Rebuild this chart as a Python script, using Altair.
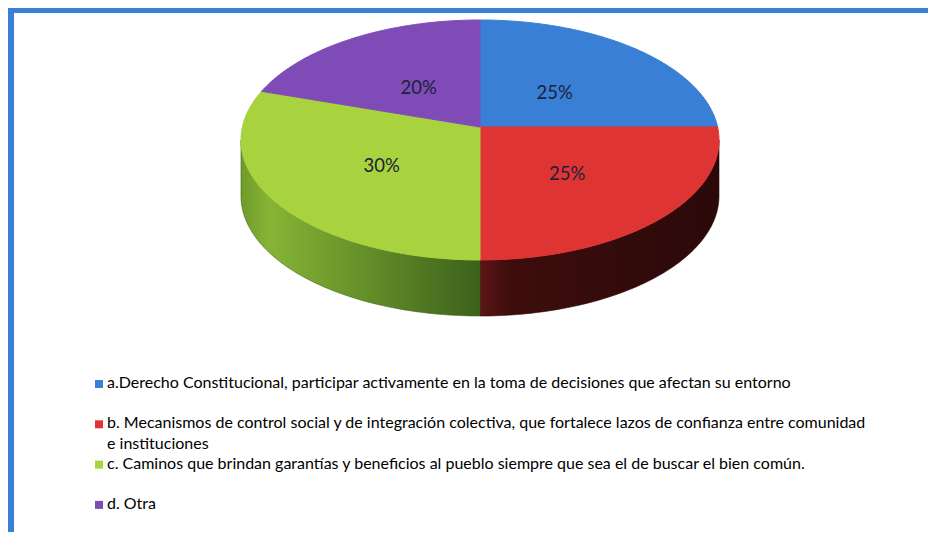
import altair as alt
import pandas as pd

# ---------------- data ----------------
categories = ["a", "b", "c", "d"]
values = [25, 25, 30, 20]
pct_labels = ["25%", "25%", "30%", "20%"]
legend_labels = [
    "a.Derecho Constitucional, participar activamente en la toma de decisiones que afectan su entorno",
    "b. Mecanismos de control social y de integración colectiva,  que fortalece lazos de confianza entre comunidad\ne instituciones",
    "c. Caminos que brindan  garantías y beneficios al pueblo siempre que sea el de buscar el bien común.",
    "d.  Otra",
]
top_colors = ["#3A7FD6", "#DF3434", "#A8D23E", "#7E4BB7"]
side_colors = [
    ["#2F63A8", "#24508A", "#1B3A66"],
    ["#5C1616", "#3E0D0D", "#2B0909"],
    ["#6F9B2B", "#86B535", "#3C611B"],
    ["#5A3585", "#4A2C6E", "#3B2258"],
]
side_offsets = [0.0, 0.12, 1.0]

df = pd.DataFrame({"cat": categories, "value": values, "pct": pct_labels, "legend": legend_labels})

# ---------------- geometry / layout constants ----------------
W, H = 920, 524
CX, VY, CYE, RX, RY, DEPTH = 472, 119, 132, 239, 120, 56
N = 72
Q = (VY - CYE) / RY
F = 0.48
LY0, LDY = 376, 40.3
FRAME = "#3A80D4"

xs = alt.Scale(domain=[0, W], nice=False, zero=False)
ys = alt.Scale(domain=[0, H], nice=False, zero=False, reverse=True)


def texpr(a):
    return f"({Q}*cos({a})+sqrt({Q*Q}*cos({a})*cos({a})+{1-Q*Q}))"


def geom():
    return (
        alt.Chart()
        .transform_window(cum="sum(value)", frame=[None, 0])
        .transform_joinaggregate(total="sum(value)")
        .transform_calculate(
            a0="2*PI*(datum.cum-datum.value)/datum.total",
            a1="2*PI*datum.cum/datum.total",
        )
        .transform_calculate(t0=texpr("datum.a0"), t1=texpr("datum.a1"))
        .transform_calculate(
            r0=f"atan2(datum.t0*sin(datum.a0), datum.t0*cos(datum.a0)-({Q}))",
            r1=f"atan2(datum.t1*sin(datum.a1), datum.t1*cos(datum.a1)-({Q}))",
        )
        .transform_calculate(
            p0="datum.r0<0 ? datum.r0+2*PI : datum.r0",
            p1="datum.r1<0 ? datum.r1+2*PI : datum.r1",
        )
    )


enc = dict(
    x=alt.X("x:Q", scale=xs, axis=None),
    y=alt.Y("y:Q", scale=ys, axis=None),
    order=alt.Order("k:Q"),
)

layers = []

# frame
frame_top = alt.Chart(alt.Data(values=[{}])).mark_rule(color=FRAME, strokeWidth=6).encode(
    x=alt.value(0), x2=alt.value(W), y=alt.value(2)
)
frame_left = alt.Chart(alt.Data(values=[{}])).mark_rule(color=FRAME, strokeWidth=6).encode(
    x=alt.value(3), y=alt.value(0), y2=alt.value(H)
)
layers += [frame_top, frame_left]

# sides (3D depth)
for i, c in enumerate(categories):
    grad = alt.Gradient(
        gradient="linear",
        stops=[alt.GradientStop(color=col, offset=o) for col, o in zip(side_colors[i], side_offsets)],
        x1=0, x2=1, y1=0, y2=0,
    )
    side = (
        geom()
        .transform_filter(alt.datum.cat == c)
        .transform_calculate(s0="max(datum.p0, PI/2)", s1="min(datum.p1, 3*PI/2)")
        .transform_filter("datum.s1 > datum.s0")
        .transform_calculate(k=f"sequence(0, {2*N+2})")
        .transform_flatten(["k"])
        .transform_calculate(
            ph=f"datum.k<={N} ? datum.s0+(datum.s1-datum.s0)*datum.k/{N} : datum.s1-(datum.s1-datum.s0)*(datum.k-{N+1})/{N}",
            x=f"{CX}+{RX}*sin(datum.ph)",
            y=f"{CYE}-{RY}*cos(datum.ph)+(datum.k>{N} ? {DEPTH} : 0)",
        )
        .mark_line(fill=grad, stroke=side_colors[i][2], strokeWidth=0.6, interpolate="linear-closed")
        .encode(**enc)
    )
    layers.append(side)

# top faces
for i, c in enumerate(categories):
    top = (
        geom()
        .transform_filter(alt.datum.cat == c)
        .transform_calculate(k=f"sequence(-1, {N+1})")
        .transform_flatten(["k"])
        .transform_calculate(
            ph=f"datum.p0+(datum.p1-datum.p0)*max(datum.k,0)/{N}",
            x=f"datum.k<0 ? {CX} : {CX}+{RX}*sin(datum.ph)",
            y=f"datum.k<0 ? {VY} : {CYE}-{RY}*cos(datum.ph)",
        )
        .mark_line(fill=top_colors[i], stroke=top_colors[i], strokeWidth=1, interpolate="linear-closed")
        .encode(**enc)
    )
    layers.append(top)

# percentage labels
labels = (
    geom()
    .transform_calculate(mid="(datum.a0+datum.a1)/2")
    .transform_calculate(tm=texpr("datum.mid"))
    .transform_calculate(
        x=f"{CX}+{F}*datum.tm*sin(datum.mid)*{RX}",
        y=f"{VY}-{F}*datum.tm*cos(datum.mid)*{RY}+3",
    )
    .mark_text(font="Lato", fontSize=18.5, color="#1A2238", align="center", baseline="middle")
    .encode(x=alt.X("x:Q", scale=xs, axis=None), y=alt.Y("y:Q", scale=ys, axis=None), text="pct:N")
)
layers.append(labels)

# legend
leg_base = alt.Chart().transform_window(rn="row_number()").transform_calculate(
    ly=f"{LY0}+(datum.rn-1)*{LDY}", ty=f"{LY0}+(datum.rn-1)*{LDY}-9"
)
leg_sq = leg_base.mark_square(size=64, opacity=1).encode(
    x=alt.value(91),
    y=alt.Y("ly:Q", scale=ys, axis=None),
    color=alt.Color("cat:N", scale=alt.Scale(domain=categories, range=top_colors), legend=None),
)
leg_tx = leg_base.mark_text(
    font="Lato", fontSize=16, color="#000000", align="left", baseline="top", lineBreak="\n", lineHeight=21
).encode(
    x=alt.value(99),
    y=alt.Y("ty:Q", scale=ys, axis=None),
    text="legend:N",
)
layers += [leg_sq, leg_tx]

chart = (
    alt.layer(*layers, data=df)
    .properties(width=W, height=H, padding=0, autosize="none", background="white")
    .configure_view(stroke=None)
)

chart.save("out.html", embed_options={"renderer": "svg", "actions": False})
